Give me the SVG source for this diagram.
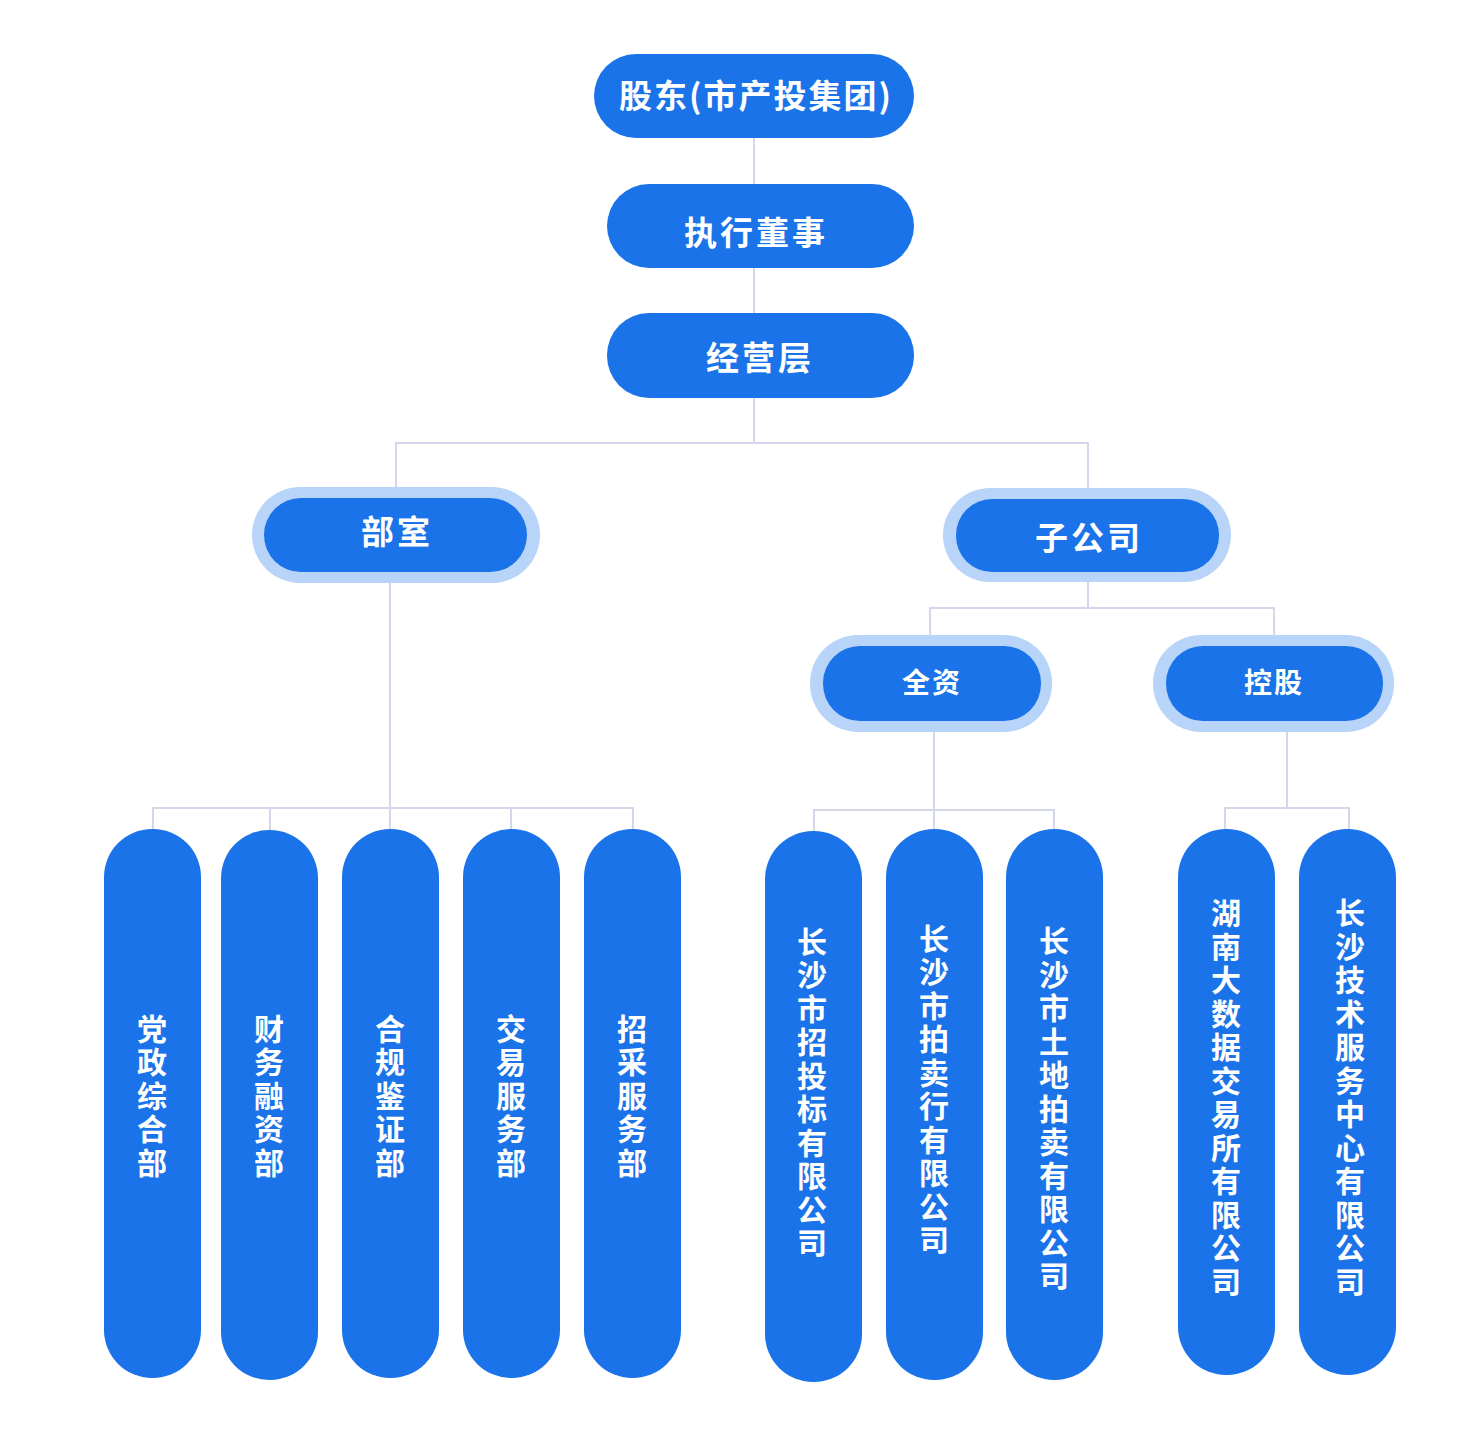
<svg xmlns="http://www.w3.org/2000/svg" width="1478" height="1440" viewBox="0 0 1478 1440">
<style>
.box{fill:#1A73E8}
.ring{fill:#B8D4F8}
.t{fill:#FFFFFF;font-family:"Noto Sans CJK SC","Noto Sans",sans-serif;font-weight:bold;text-anchor:middle}
.h{font-size:33px;letter-spacing:3px}
.s{font-size:28px;letter-spacing:2px}
.v{font-size:30px;letter-spacing:3.5px;writing-mode:vertical-rl;text-orientation:upright}
.c{stroke:#D4D7EA;stroke-width:2;fill:none}
</style>
<rect width="1478" height="1440" fill="#FFFFFF"/>
<g id="connectors" class="c">
<polyline points="754,138 754,184"/>
<polyline points="754,268 754,313"/>
<polyline points="754,398 754,443"/>
<polyline points="396,487 396,443 1088,443 1088,488"/>
<polyline points="390,583 390,808"/>
<polyline points="153,829 153,808 633,808 633,829"/>
<polyline points="270,808 270,830"/>
<polyline points="390,808 390,829"/>
<polyline points="511,808 511,829"/>
<polyline points="1088,582 1088,608"/>
<polyline points="930,635 930,608 1274,608 1274,635"/>
<polyline points="934,732 934,810"/>
<polyline points="814,831 814,810 1054,810 1054,829"/>
<polyline points="934,810 934,829"/>
<polyline points="1287,732 1287,808"/>
<polyline points="1225,829 1225,808 1349,808 1349,829"/>
</g>
<g id="n-gudong"><rect class="box" x="594" y="54" width="320" height="84" rx="42"/><text class="t h" x="756" y="108" style="letter-spacing:2px">股东(市产投集团)</text></g>
<g id="n-zhixing"><rect class="box" x="607" y="184" width="307" height="84" rx="42"/><text class="t h" x="756" y="245">执行董事</text></g>
<g id="n-jingying"><rect class="box" x="607" y="313" width="307" height="85" rx="42"/><text class="t h" x="760" y="370">经营层</text></g>
<g id="n-bushi"><rect class="ring" x="252" y="487" width="288" height="96" rx="48"/><rect class="box" x="264" y="498" width="263" height="74" rx="37"/><text class="t h" x="397" y="544">部室</text></g>
<g id="n-zigongsi"><rect class="ring" x="943" y="488" width="288" height="94" rx="47"/><rect class="box" x="956" y="499" width="263" height="73" rx="36"/><text class="t h" x="1089" y="550">子公司</text></g>
<g id="n-quanzi"><rect class="ring" x="810" y="635" width="242" height="97" rx="48"/><rect class="box" x="823" y="646" width="218" height="75" rx="37"/><text class="t s" x="932" y="693">全资</text></g>
<g id="n-konggu"><rect class="ring" x="1153" y="635" width="241" height="97" rx="48"/><rect class="box" x="1166" y="646" width="217" height="75" rx="37"/><text class="t s" x="1274" y="693">控股</text></g>
<g id="n-1"><rect class="box" x="104" y="829" width="97" height="549" rx="48"/><text class="t v" x="152" y="1097">党政综合部</text></g>
<g id="n-2"><rect class="box" x="221" y="830" width="97" height="550" rx="48"/><text class="t v" x="269" y="1097">财务融资部</text></g>
<g id="n-3"><rect class="box" x="342" y="829" width="97" height="549" rx="48"/><text class="t v" x="390" y="1097">合规鉴证部</text></g>
<g id="n-4"><rect class="box" x="463" y="829" width="97" height="549" rx="48"/><text class="t v" x="511" y="1097">交易服务部</text></g>
<g id="n-5"><rect class="box" x="584" y="829" width="97" height="549" rx="48"/><text class="t v" x="632" y="1097">招采服务部</text></g>
<g id="n-6"><rect class="box" x="765" y="831" width="97" height="551" rx="48"/><text class="t v" x="812" y="1094">长沙市招投标有限公司</text></g>
<g id="n-7"><rect class="box" x="886" y="829" width="97" height="551" rx="48"/><text class="t v" x="934" y="1091">长沙市拍卖行有限公司</text></g>
<g id="n-8"><rect class="box" x="1006" y="829" width="97" height="551" rx="48"/><text class="t v" x="1054" y="1110">长沙市土地拍卖有限公司</text></g>
<g id="n-9"><rect class="box" x="1178" y="829" width="97" height="546" rx="48"/><text class="t v" x="1226" y="1099">湖南大数据交易所有限公司</text></g>
<g id="n-10"><rect class="box" x="1299" y="829" width="97" height="546" rx="48"/><text class="t v" x="1350" y="1099">长沙技术服务中心有限公司</text></g>
</svg>
